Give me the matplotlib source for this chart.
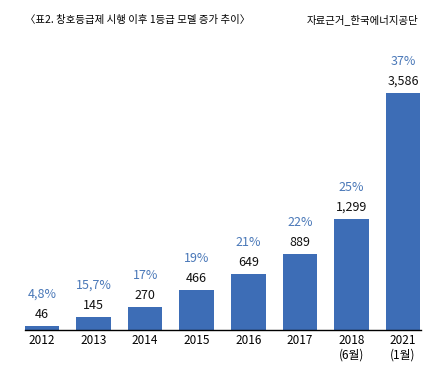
import matplotlib
matplotlib.use('Agg')
import matplotlib.pyplot as plt

plt.rcParams['font.family'] = ['Noto Sans CJK KR', 'DejaVu Sans']

# 데이터
years = ['2012', '2013', '2014', '2015', '2016', '2017', '2018\n(6월)', '2021\n(1월)']
counts = ['46', '145', '270', '466', '649', '889', '1,299', '3,586']
shares = ['4,8%', '15,7%', '17%', '19%', '21%', '22%', '25%', '37%']
# 원본 인포그래픽에서 그려진 막대 높이 (비례가 아님, 그림에서 읽음)
bar_heights = [4, 13, 23, 40, 56, 76, 111, 237]

bar_color = '#3d6db6'
pct_color = '#4a78b8'

fig = plt.figure(figsize=(4.31, 3.77), dpi=100)
W, H = 431, 377
# 축: x 25~421 px, 기준선 y=330 px, 높이 290 px
ax = fig.add_axes([25 / W, (H - 330) / H, 396 / W, 290 / H])

x = range(len(years))
ax.bar(x, bar_heights, width=0.67, color=bar_color)

for i in x:
    ax.text(i, bar_heights[i] + 5, counts[i], ha='center', va='bottom',
            fontsize=9, color='#111111')
    ax.text(i, bar_heights[i] + 25, shares[i], ha='center', va='bottom',
            fontsize=9, color=pct_color)

ax.set_xlim(-0.33, 7.35)
ax.set_ylim(0, 290)
ax.set_xticks(list(x))
ax.set_xticklabels(years, fontsize=8.5, linespacing=1.1)
ax.tick_params(axis='x', length=0, pad=3)
ax.set_yticks([])
for s in ['top', 'right', 'left']:
    ax.spines[s].set_visible(False)
ax.spines['bottom'].set_linewidth(1.0)

fig.text(25 / W, 1 - 20 / H, '〈표2. 창호등급제 시행 이후 1등급 모델 증가 추이〉',
         ha='left', va='center', fontsize=7.5)
fig.text(418 / W, 1 - 20 / H, '자료근거_한국에너지공단',
         ha='right', va='center', fontsize=7.5)

fig.savefig('out.png', dpi=100)
